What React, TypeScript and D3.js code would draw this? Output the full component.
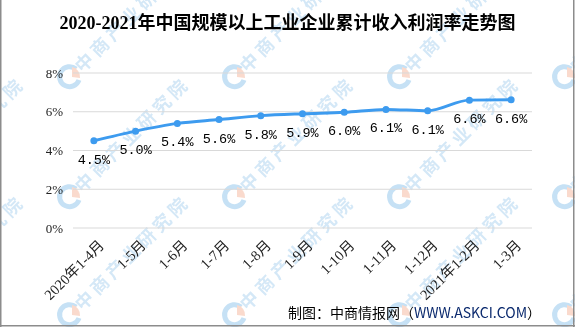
import React from "react";
import * as d3 from "d3";

const categories = ["2020年1-4月", "1-5月", "1-6月", "1-7月", "1-8月", "1-9月", "1-10月", "1-11月", "1-12月", "2021年1-2月", "1-3月"];
const values = [4.5, 5.0, 5.4, 5.6, 5.8, 5.9, 5.97, 6.12, 6.05, 6.6, 6.62];
const valueLabels = ["4.5%", "5.0%", "5.4%", "5.6%", "5.8%", "5.9%", "6.0%", "6.1%", "6.1%", "6.6%", "6.6%"];
const yTicks = [0, 2, 4, 6, 8];
const title = "2020-2021年中国规模以上工业企业累计收入利润率走势图";
const sourcePrefix = "制图：中商情报网（";
const sourceSite = "WWW.ASKCI.COM";
const sourceSuffix = "）";
const watermarkText = "中商产业研究院";
const wmCols = [-95, 70, 235, 400, 565];
const wmRows = [77, 197, 315];

const W = 575;
const H = 327;
const LINE_COLOR = "#3d9bef";

export default function App() {
  const x = d3.scaleBand<string>().domain(categories).range([73, 532]).padding(0);
  const y = d3.scaleLinear().domain([0, 8]).range([228, 73]);
  const cx = (c: string) => (x(c) ?? 0) + x.bandwidth() / 2;
  const line = d3
    .line<number>()
    .x((_, i) => cx(categories[i]))
    .y((d) => y(d))
    .curve(d3.curveMonotoneX);

  const serif = "'Liberation Serif', 'Noto Sans CJK SC', serif";
  const cjk = "'Noto Sans CJK SC', 'Noto Sans', sans-serif";

  return (
    <div style={{ position: "absolute", left: 0, top: 0 }}>
      <svg width={W} height={H} style={{ display: "block", background: "#fff" }}>
        <defs>
          <clipPath id="page">
            <rect x={0} y={0} width={W} height={H} />
          </clipPath>
        </defs>
        <rect x={0} y={0} width={W} height={H} fill="#fff" />
        {/* watermarks */}
        <g opacity={0.5} clipPath="url(#page)">
          {wmRows.map((ry) =>
            wmCols.map((rx) => (
              <g key={`${rx}-${ry}`}>
                <path
                  d={`M ${rx + 6} ${ry - 8} A 10 10 0 1 0 ${rx + 9} ${ry + 3}`}
                  fill="none"
                  stroke="#8cc3ea"
                  strokeWidth={5}
                />
                <path
                  d={`M ${rx + 2} ${ry - 10} A 10 10 0 0 1 ${rx + 10} ${ry + 1} L ${rx + 2} ${ry} Z`}
                  fill="#f4b59a"
                />
                <text
                  transform={`translate(${rx + 8},${ry - 8}) rotate(-45)`}
                  fontFamily={cjk}
                  fontWeight="bold"
                  fontSize={18}
                  letterSpacing={4}
                  dy="0.35em"
                  fill="#a9d0ee"
                >
                  {watermarkText}
                </text>
              </g>
            ))
          )}
        </g>

        {/* title */}
        <text x={W / 2} y={29} textAnchor="middle" fontFamily={serif} fontWeight="bold" fontSize={18} fill="#000">
          {title}
        </text>

        {/* grid */}
        {yTicks.map((t) => (
          <g key={t}>
            <line x1={73} x2={532} y1={y(t)} y2={y(t)} stroke="#d9d9d9" strokeWidth={1} />
            <text x={63} y={y(t)} dy="0.35em" textAnchor="end" fontFamily={serif} fontSize={13} fill="#222">
              {`${t}%`}
            </text>
          </g>
        ))}

        {/* line */}
        <path d={line(values) ?? ""} fill="none" stroke={LINE_COLOR} strokeWidth={3} strokeLinejoin="round" />
        {values.map((v, i) => (
          <circle key={i} cx={cx(categories[i])} cy={y(v)} r={3.5} fill={LINE_COLOR} />
        ))}
        {values.map((v, i) => (
          <text
            key={`l${i}`}
            x={cx(categories[i])}
            y={y(v) + 23}
            textAnchor="middle"
            fontFamily="'Liberation Mono', 'DejaVu Sans Mono', monospace"
            fontSize={13.5}
            fill="#000"
          >
            {valueLabels[i]}
          </text>
        ))}

        {/* x labels */}
        {categories.map((c) => (
          <text
            key={c}
            transform={`translate(${cx(c) + 4},${239}) rotate(-45)`}
            textAnchor="end"
            dy="0.7em"
            fontFamily={serif}
            fontSize={14.5}
            fill="#222"
          >
            {c}
          </text>
        ))}

        {/* source */}
        <text x={288} y={318} fontFamily={cjk} fontSize={14} fill="#000">
          {sourcePrefix}
          <tspan fill="#0b2a6e">{sourceSite}</tspan>
          {sourceSuffix}
        </text>

        {/* border */}
        <line x1={0.75} x2={0.75} y1={0} y2={H} stroke="#8c8c8c" strokeWidth={1.5} />
        <line x1={573.75} x2={573.75} y1={0} y2={H} stroke="#8c8c8c" strokeWidth={1.5} />
        <line x1={0} x2={W} y1={325.75} y2={325.75} stroke="#8c8c8c" strokeWidth={1.5} />
      </svg>
    </div>
  );
}
